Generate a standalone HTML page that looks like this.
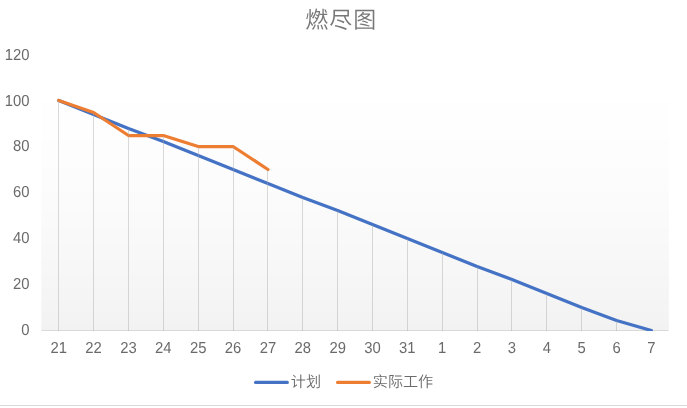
<!DOCTYPE html>
<html lang="zh-CN">
<head>
<meta charset="utf-8">
<title>燃尽图</title>
<style>
html,body{margin:0;padding:0;background:#fff;}
body{width:687px;height:408px;overflow:hidden;position:relative;font-family:"Liberation Sans","Noto Sans CJK SC",sans-serif;}
svg{position:absolute;left:0;top:0;display:block;}
svg.tx{will-change:transform;}
text{font-family:"Liberation Sans","Noto Sans CJK SC",sans-serif;fill:#595959;text-rendering:geometricPrecision;}
.ax text{font-size:15.9px;fill:#6a6a6a;}
.title{font-size:23px;font-weight:350;fill:#777;}
.lg text{font-size:15.1px;font-weight:350;fill:#6b6b6b;}
</style>
</head>
<body>
<svg width="687" height="408" viewBox="0 0 687 408">
<defs>
<linearGradient id="pg" x1="0" y1="0" x2="0" y2="1">
<stop offset="0" stop-color="#ffffff"/><stop offset="0.1719" stop-color="#ffffff"/><stop offset="0.1719" stop-color="#fefefe"/><stop offset="0.3112" stop-color="#fefefe"/><stop offset="0.3112" stop-color="#fdfdfd"/><stop offset="0.4102" stop-color="#fdfdfd"/><stop offset="0.4102" stop-color="#fcfcfc"/><stop offset="0.4920" stop-color="#fcfcfc"/><stop offset="0.4920" stop-color="#fbfbfb"/><stop offset="0.5636" stop-color="#fbfbfb"/><stop offset="0.5636" stop-color="#fafafa"/><stop offset="0.6282" stop-color="#fafafa"/><stop offset="0.6282" stop-color="#f9f9f9"/><stop offset="0.6875" stop-color="#f9f9f9"/><stop offset="0.6875" stop-color="#f8f8f8"/><stop offset="0.7428" stop-color="#f8f8f8"/><stop offset="0.7428" stop-color="#f7f7f7"/><stop offset="0.7948" stop-color="#f7f7f7"/><stop offset="0.7948" stop-color="#f6f6f6"/><stop offset="0.8440" stop-color="#f6f6f6"/><stop offset="0.8440" stop-color="#f5f5f5"/><stop offset="0.8910" stop-color="#f5f5f5"/><stop offset="0.8910" stop-color="#f4f4f4"/><stop offset="0.9359" stop-color="#f4f4f4"/><stop offset="0.9359" stop-color="#f3f3f3"/><stop offset="0.9790" stop-color="#f3f3f3"/><stop offset="0.9790" stop-color="#f2f2f2"/><stop offset="1" stop-color="#f2f2f2"/>
</linearGradient>
<clipPath id="pc"><rect x="0" y="0" width="687" height="331"/></clipPath>
</defs>
<rect x="0" y="0" width="687" height="408" fill="#ffffff"/>
<rect x="41.3" y="54.5" width="627.55" height="276.5" fill="url(#pg)"/>
<line x1="41.5" y1="330.5" x2="668.4" y2="330.5" stroke="#d9d9d9" stroke-width="1"/>
<polyline points="58.73,100.50 93.60,114.50 128.46,128.50 163.32,141.50 198.19,155.50 233.05,169.50 267.92,183.50 302.78,197.50 337.64,210.50 372.51,224.50 407.37,238.50 442.23,252.50 477.10,266.50 511.96,279.50 546.83,293.50 581.69,307.50 616.55,320.50 651.42,330.50" fill="none" stroke="#4472c4" stroke-width="3.25" stroke-linecap="round" stroke-linejoin="round" clip-path="url(#pc)"/>
<polyline points="58.73,100.50 93.60,112.50 128.46,135.50 163.32,135.50 198.19,146.50 233.05,146.50 267.92,169.50" fill="none" stroke="#ed7d31" stroke-width="3.25" stroke-linecap="round" stroke-linejoin="round"/>
<g stroke="#a6a6a6" stroke-opacity="0.42" stroke-width="1" shape-rendering="crispEdges"><line x1="58.73" y1="100.50" x2="58.73" y2="330.5"/><line x1="93.60" y1="112.50" x2="93.60" y2="330.5"/><line x1="128.46" y1="128.50" x2="128.46" y2="330.5"/><line x1="163.32" y1="135.50" x2="163.32" y2="330.5"/><line x1="198.19" y1="146.50" x2="198.19" y2="330.5"/><line x1="233.05" y1="146.50" x2="233.05" y2="330.5"/><line x1="267.92" y1="169.50" x2="267.92" y2="330.5"/><line x1="302.78" y1="197.50" x2="302.78" y2="330.5"/><line x1="337.64" y1="210.50" x2="337.64" y2="330.5"/><line x1="372.51" y1="224.50" x2="372.51" y2="330.5"/><line x1="407.37" y1="238.50" x2="407.37" y2="330.5"/><line x1="442.23" y1="252.50" x2="442.23" y2="330.5"/><line x1="477.10" y1="266.50" x2="477.10" y2="330.5"/><line x1="511.96" y1="279.50" x2="511.96" y2="330.5"/><line x1="546.83" y1="293.50" x2="546.83" y2="330.5"/><line x1="581.69" y1="307.50" x2="581.69" y2="330.5"/><line x1="616.55" y1="320.50" x2="616.55" y2="330.5"/></g>
<line x1="255.6" y1="382.4" x2="287.3" y2="382.4" stroke="#4472c4" stroke-width="3.25" stroke-linecap="round"/>
<line x1="337.6" y1="382.4" x2="369.3" y2="382.4" stroke="#ed7d31" stroke-width="3.25" stroke-linecap="round"/>
<line x1="0" y1="405.5" x2="687" y2="405.5" stroke="#d9d9d9" stroke-width="1" shape-rendering="crispEdges"/>
</svg>
<svg class="tx" width="687" height="408" viewBox="0 0 687 408">
<g class="ax" text-anchor="middle"><text transform="translate(58.73,353) scale(0.933,1)">21</text><text transform="translate(93.60,353) scale(0.933,1)">22</text><text transform="translate(128.46,353) scale(0.933,1)">23</text><text transform="translate(163.32,353) scale(0.933,1)">24</text><text transform="translate(198.19,353) scale(0.933,1)">25</text><text transform="translate(233.05,353) scale(0.933,1)">26</text><text transform="translate(267.92,353) scale(0.933,1)">27</text><text transform="translate(302.78,353) scale(0.933,1)">28</text><text transform="translate(337.64,353) scale(0.933,1)">29</text><text transform="translate(372.51,353) scale(0.933,1)">30</text><text transform="translate(407.37,353) scale(0.933,1)">31</text><text transform="translate(442.23,353) scale(0.933,1)">1</text><text transform="translate(477.10,353) scale(0.933,1)">2</text><text transform="translate(511.96,353) scale(0.933,1)">3</text><text transform="translate(546.83,353) scale(0.933,1)">4</text><text transform="translate(581.69,353) scale(0.933,1)">5</text><text transform="translate(616.55,353) scale(0.933,1)">6</text><text transform="translate(651.42,353) scale(0.933,1)">7</text></g>
<g class="ax" text-anchor="end"><text transform="translate(29.6,335) scale(0.933,1)">0</text><text transform="translate(29.6,289.1) scale(0.933,1)">20</text><text transform="translate(29.6,243.1) scale(0.933,1)">40</text><text transform="translate(29.6,197.1) scale(0.933,1)">60</text><text transform="translate(29.6,151.2) scale(0.933,1)">80</text><text transform="translate(29.6,106) scale(0.933,1)">100</text><text transform="translate(29.6,60) scale(0.933,1)">120</text></g>
<text class="title" x="305.2" y="27.6" letter-spacing="1.05">燃尽图</text>
<g class="lg">
<text x="290.8" y="387">计划</text>
<text x="372.8" y="387">实际工作</text>
</g>
</svg>
</body>
</html>
